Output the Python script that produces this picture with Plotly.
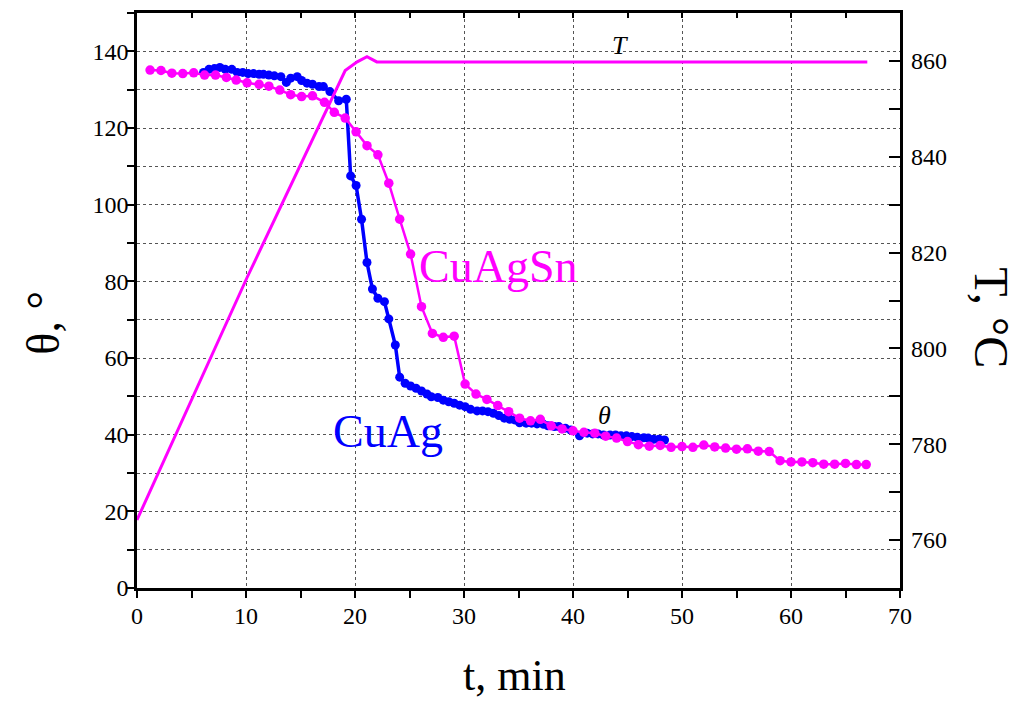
import plotly.graph_objects as go

# ---- data ----
cuag_t = [6.1, 6.6, 7.1, 7.6, 8.1, 8.7, 9.2, 9.7, 10.2, 10.7, 11.2, 11.6, 12.1, 12.6, 13.2, 13.7,
          14.1, 14.7, 15.1, 15.6, 16.1, 16.7, 17.1, 17.7, 18.5, 19.2, 19.6, 20.1, 20.6, 21.1,
          21.6, 22.1, 22.7, 23.1, 23.7, 24.1, 24.6, 25.1, 25.6, 26.1, 26.6, 27.0, 27.6, 28.1,
          28.6, 29.1, 29.6, 30.1, 30.6, 31.2, 31.7, 32.2, 32.7, 33.2, 33.7, 34.2, 34.7, 35.1,
          35.7, 36.2, 36.7, 37.3, 37.7, 38.3, 38.7, 39.3, 39.8, 40.6, 41.3, 41.8, 42.3, 42.8,
          43.4, 43.9, 44.4, 44.9, 45.4, 45.9, 46.5, 46.9, 47.4, 47.9, 48.4]
cuag_theta = [134.5, 135.3, 135.5, 135.8, 135.3, 135.3, 134.5, 134.5, 134.2, 134.2, 134.0, 134.0,
              133.8, 133.6, 133.4, 131.9, 133.0, 133.4, 132.4, 131.7, 131.4, 130.8, 130.8, 129.5,
              127.1, 127.5, 107.5, 105.0, 96.2, 84.9, 78.0, 75.6, 74.7, 70.2, 63.4, 55.0, 53.4,
              52.7, 52.1, 51.4, 50.6, 49.9, 49.7, 49.0, 48.6, 48.2, 47.7, 47.3, 46.6, 46.2, 46.2,
              46.0, 45.6, 45.0, 44.3, 44.0, 43.8, 43.1, 43.0, 43.0, 42.8, 42.7, 42.3, 42.1, 42.1,
              41.7, 41.2, 39.7, 40.4, 40.2, 40.2, 39.9, 39.9, 39.9, 39.7, 39.7, 39.5, 39.3, 39.2,
              39.1, 38.8, 38.8, 38.6]

cuagsn_t = [1.2, 2.2, 3.2, 4.2, 5.2, 6.2, 7.2, 8.2, 9.1, 10.1, 11.2, 12.1, 13.1, 14.1, 15.1, 16.1,
            17.2, 18.1, 19.1, 20.1, 21.1, 22.1, 23.1, 24.1, 25.1, 26.1, 27.1, 28.1, 29.1, 30.1,
            31.1, 32.1, 33.1, 34.1, 35.1, 36.1, 37.0, 38.0, 39.0, 40.0, 41.0, 42.0, 43.0, 44.0,
            45.0, 46.0, 47.0, 48.0, 49.0, 50.0, 51.0, 52.0, 53.0, 54.0, 55.0, 56.0, 57.0, 58.0,
            59.0, 60.0, 61.0, 62.0, 63.0, 64.0, 65.0, 66.0, 66.9]
cuagsn_theta = [135.1, 135.0, 134.3, 134.2, 134.4, 133.8, 133.8, 133.2, 132.5, 131.8, 131.4, 130.9,
                129.9, 128.7, 128.2, 128.4, 126.7, 124.1, 122.6, 119.0, 115.4, 113.0, 105.6, 96.2,
                87.1, 73.4, 66.4, 65.4, 65.7, 53.2, 50.6, 49.2, 47.6, 46.0, 44.3, 43.6, 44.0, 42.3,
                41.5, 41.0, 40.6, 40.4, 39.6, 39.1, 38.2, 37.4, 37.0, 37.2, 36.7, 36.9, 36.7, 37.3,
                36.8, 36.5, 36.2, 36.3, 35.7, 35.6, 33.2, 32.9, 32.9, 32.7, 32.3, 32.3, 32.5, 32.2,
                32.2]

temp_t = [0.0, 10.1, 19.1, 20.2, 21.1, 22.0, 67.0]
temp_T = [764.2, 814.8, 858.0, 859.8, 860.9, 859.8, 859.8]

x_tick_vals = [0, 10, 20, 30, 40, 50, 60, 70]
y_tick_vals = [0, 20, 40, 60, 80, 100, 120, 140]
y2_tick_vals = [760, 780, 800, 820, 840, 860]

MAG = "#FF00FF"
BLUE = "#0000FF"
FONT = "Liberation Serif, Times New Roman, serif"
XDOM = [0, 0.98706]

fig = go.Figure()
fig.add_trace(go.Scatter(x=cuag_t, y=cuag_theta, mode="lines+markers",
                         line=dict(color=BLUE, width=3.5),
                         marker=dict(color=BLUE, size=9), name="CuAg"))
fig.add_trace(go.Scatter(x=cuagsn_t, y=cuagsn_theta, mode="lines+markers",
                         line=dict(color=MAG, width=2.5),
                         marker=dict(color=MAG, size=9.5), name="CuAgSn"))
fig.add_trace(go.Scatter(x=temp_t, y=temp_T, mode="lines", yaxis="y2",
                         line=dict(color=MAG, width=3), name="T"))
# dummy traces for the helper axes (top mirror axis, right-hand label axis)
fig.add_trace(go.Scatter(x=[0], y=[0], xaxis="x2", mode="markers",
                         marker=dict(opacity=0), hoverinfo="skip", showlegend=False))
fig.add_trace(go.Scatter(x=[0], y=[800], yaxis="y3", mode="markers",
                         marker=dict(opacity=0), hoverinfo="skip", showlegend=False))

grid = dict(showgrid=True, gridcolor="#555555", griddash="dot", gridwidth=1)
tickfont = dict(family=FONT, size=24, color="black")

fig.update_layout(
    width=1015, height=694,
    margin=dict(l=129, r=113, t=5, b=114),
    plot_bgcolor="white", paper_bgcolor="white",
    font=dict(family=FONT, size=24, color="black"),
    showlegend=False,
    xaxis=dict(range=[0, 70], tickvals=x_tick_vals, ticks="outside", ticklen=7, tickwidth=2,
               tickcolor="black", showline=True, linecolor="black", linewidth=2.5,
               zeroline=False, tickfont=tickfont, ticklabelstandoff=-3,
               domain=XDOM,
               minor=dict(dtick=5, ticks="outside", ticklen=7, tickwidth=2, tickcolor="black",
                          showgrid=False),
               **grid),
    xaxis2=dict(range=[0, 70], overlaying="x", side="top", dtick=5, ticks="inside",
                ticklen=5, tickwidth=2, tickcolor="black", showticklabels=False,
                showline=True, linecolor="black", linewidth=2.5, showgrid=False,
                zeroline=False, domain=XDOM),
    yaxis=dict(range=[0, 150], tickvals=y_tick_vals, ticks="outside", ticklen=7, tickwidth=2,
               tickcolor="black", showline=True, linecolor="black", linewidth=2.5,
               zeroline=False, tickfont=tickfont, ticklabelstandoff=-6,
               minor=dict(dtick=10, ticks="outside", ticklen=7, tickwidth=2, tickcolor="black",
                          showgrid=True, gridcolor="#555555", griddash="dot", gridwidth=1),
               **grid),
    yaxis2=dict(range=[750, 870], overlaying="y", side="right", anchor="x",
                tickvals=y2_tick_vals, showticklabels=False,
                ticks="inside", ticklen=11, tickwidth=2, tickcolor="black",
                showline=True, linecolor="black", linewidth=2.5, showgrid=False,
                zeroline=False,
                minor=dict(dtick=10, ticks="inside", ticklen=11, tickwidth=2,
                           tickcolor="black", showgrid=False)),
    yaxis3=dict(range=[750, 870], overlaying="y", side="right", anchor="free",
                position=1.0, tickvals=y2_tick_vals, ticks="", showline=False,
                showgrid=False, zeroline=False, tickfont=tickfont),
)

big = dict(family=FONT, size=44, color="black")
fig.add_annotation(text="t, min", xref="paper", yref="paper", x=0.4886, y=-0.152,
                   showarrow=False, font=big, xanchor="center", yanchor="middle")
fig.add_annotation(text="θ, °", xref="paper", yref="paper", x=-0.1214, y=0.46,
                   showarrow=False, font=dict(family=FONT, size=46, color="black"),
                   textangle=-90, xanchor="center", yanchor="middle")
fig.add_annotation(text="T, °C", xref="paper", yref="paper", x=1.1055, y=0.47,
                   showarrow=False, font=dict(family=FONT, size=48, color="black"),
                   textangle=90, xanchor="center", yanchor="middle")

fig.add_annotation(text="CuAgSn", x=33.1, y=84.0, xref="x", yref="y", showarrow=False,
                   font=dict(family=FONT, size=46, color=MAG))
fig.add_annotation(text="CuAg", x=23.0, y=40.7, xref="x", yref="y", showarrow=False,
                   font=dict(family=FONT, size=46, color=BLUE))
fig.add_annotation(text="<i>θ</i>", x=42.9, y=45.0, xref="x", yref="y", showarrow=False,
                   font=dict(family=FONT, size=26, color="black"))
fig.add_annotation(text="<i>T</i>", x=44.3, y=141.5, xref="x", yref="y", showarrow=False,
                   font=dict(family=FONT, size=26, color="black"))

fig.write_html("out.html")
